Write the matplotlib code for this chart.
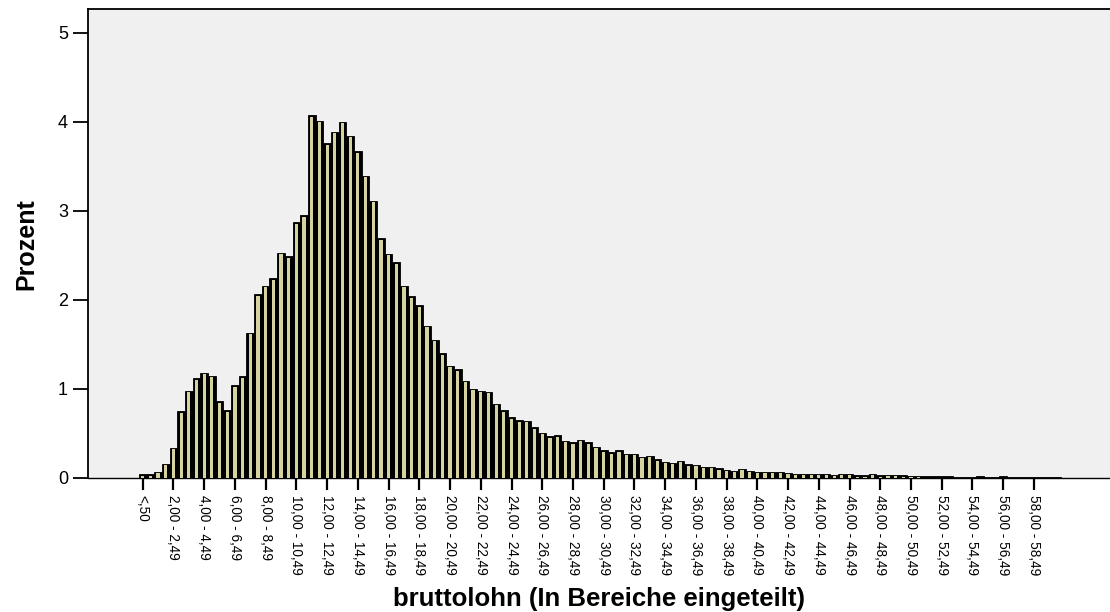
import numpy as np
import matplotlib
matplotlib.use('Agg')
import matplotlib.pyplot as plt

plt.rcParams['font.family'] = ['Liberation Sans', 'DejaVu Sans']

# Percent per 0,50-wide class of bruttolohn (index 0 = "<,50")
prozent = [
    0.04, 0.04, 0.07, 0.16, 0.34, 0.75, 0.98, 1.12, 1.18, 1.15,
    0.86, 0.76, 1.04, 1.14, 1.63, 2.06, 2.16, 2.24, 2.53, 2.49,
    2.87, 2.95, 4.07, 4.01, 3.76, 3.89, 4.00, 3.84, 3.67, 3.39,
    3.11, 2.69, 2.52, 2.42, 2.16, 2.04, 1.94, 1.71, 1.55, 1.40,
    1.26, 1.22, 1.09, 1.00, 0.98, 0.97, 0.83, 0.76, 0.68, 0.65,
    0.64, 0.57, 0.51, 0.47, 0.48, 0.42, 0.40, 0.43, 0.40, 0.35,
    0.31, 0.29, 0.31, 0.27, 0.27, 0.24, 0.25, 0.21, 0.18, 0.17,
    0.19, 0.155, 0.15, 0.125, 0.125, 0.11, 0.095, 0.08, 0.105, 0.08,
    0.07, 0.07, 0.07, 0.07, 0.06, 0.05, 0.05, 0.05, 0.05, 0.045,
    0.035, 0.045, 0.045, 0.03, 0.03, 0.045, 0.03, 0.035, 0.035, 0.03,
    0.025, 0.025, 0.02, 0.02, 0.02, 0.02, 0.015, 0.015, 0.015, 0.02,
    0.015, 0.015, 0.02, 0.01, 0.01, 0.01, 0.01, 0.01, 0.01, 0.01,
]

# labelled classes (every fourth bar)
tick_labels = ['<,50', '2,00 - 2,49', '4,00 - 4,49', '6,00 - 6,49', '8,00 - 8,49',
               '10,00 - 10,49', '12,00 - 12,49', '14,00 - 14,49', '16,00 - 16,49',
               '18,00 - 18,49', '20,00 - 20,49', '22,00 - 22,49', '24,00 - 24,49',
               '26,00 - 26,49', '28,00 - 28,49', '30,00 - 30,49', '32,00 - 32,49',
               '34,00 - 34,49', '36,00 - 36,49', '38,00 - 38,49', '40,00 - 40,49',
               '42,00 - 42,49', '44,00 - 44,49', '46,00 - 46,49', '48,00 - 48,49',
               '50,00 - 50,49', '52,00 - 52,49', '54,00 - 54,49', '56,00 - 56,49',
               '58,00 - 58,49']
y_ticks = [0, 1, 2, 3, 4, 5]

fill_color = '#d6d3a0'
bg_color = '#f0f0f0'

fig = plt.figure(figsize=(11.1, 6.12), dpi=100)
ax = fig.add_axes([0.0793, 0.219, 0.9207, 0.7655])
ax.set_facecolor(bg_color)

x = np.arange(len(prozent))
h = np.array(prozent)

# dark body of each bar, then the pale inner fill
ax.bar(x, h, width=1.0, color='black', edgecolor='black', linewidth=0.6, zorder=2)
ax.bar(x, np.maximum(h - 0.016, 0), width=0.42, color=fill_color, linewidth=0, zorder=3)

ax.set_xlim(-7.12, 125.9)
ax.set_ylim(0, 5.26)

ax.set_xticks(x[::4])
ax.set_xticklabels(tick_labels, rotation=270, fontsize=9.8, va='top', ha='center')
ax.set_yticks(y_ticks)
ax.set_yticklabels([str(v) for v in y_ticks], fontsize=13)

ax.tick_params(axis='y', direction='out', length=11, width=1.3, pad=3.5)
ax.tick_params(axis='x', direction='out', length=8.5, width=1.6, pad=4)

for side in ['top', 'left']:
    ax.spines[side].set_linewidth(1.3)
ax.spines['bottom'].set_linewidth(1.0)
ax.spines['right'].set_visible(False)

ax.set_xlabel('bruttolohn (In Bereiche eingeteilt)', fontsize=18.5, fontweight='bold', labelpad=8)
ax.set_ylabel('Prozent', fontsize=18, fontweight='bold', labelpad=14)

fig.savefig('out.png', dpi=100)
